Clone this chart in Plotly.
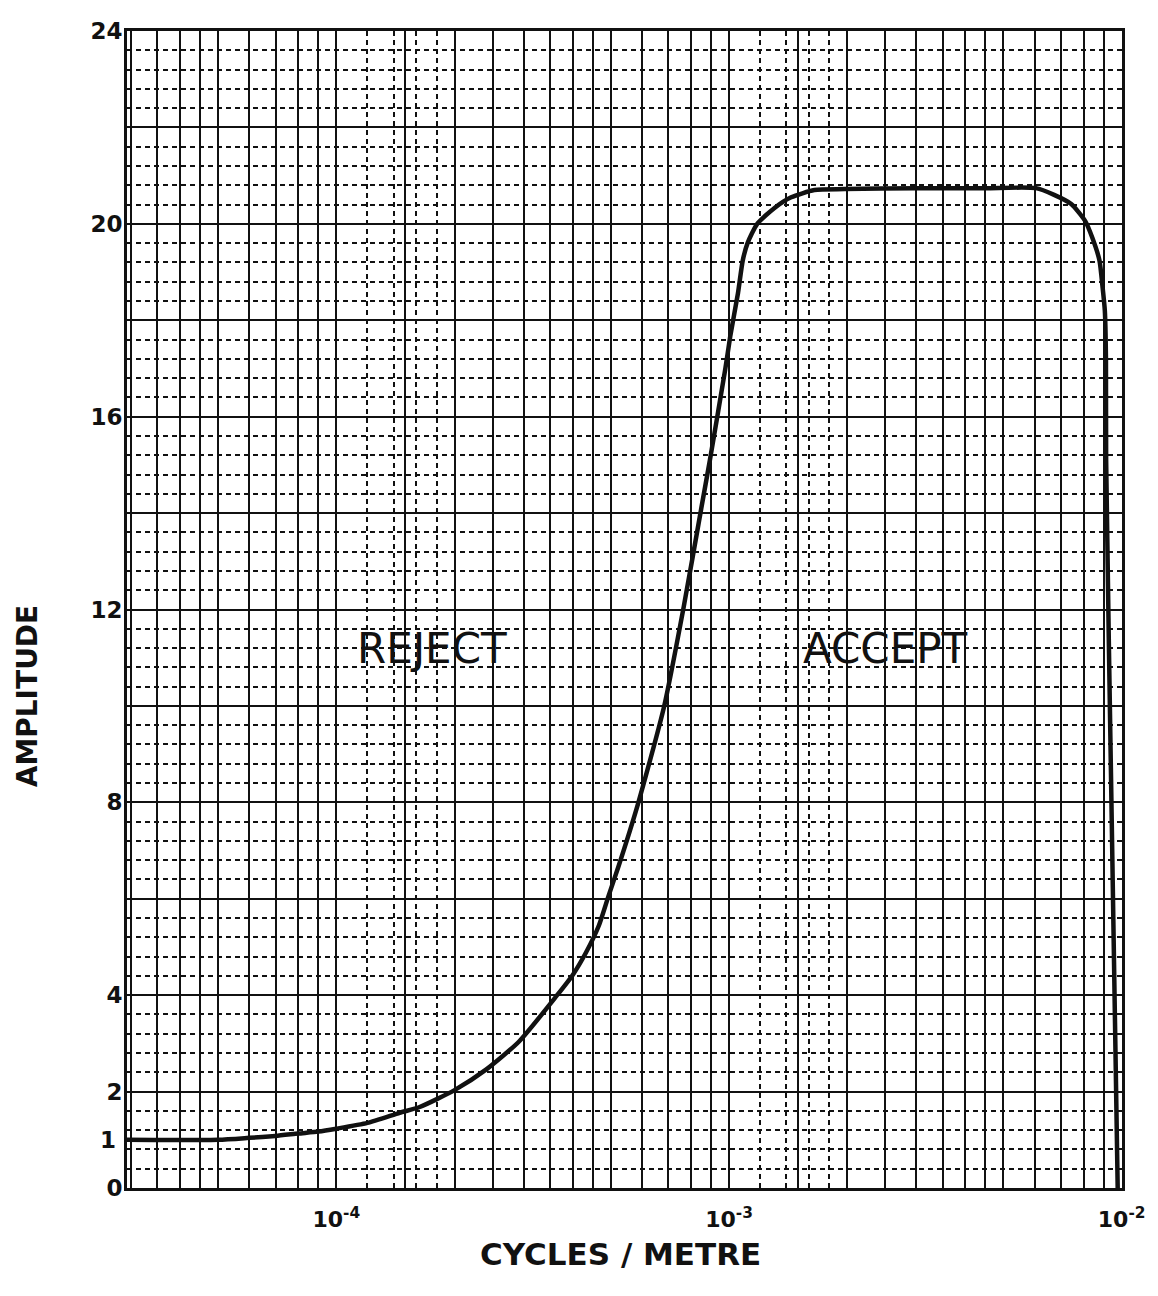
import numpy as np
import plotly.graph_objects as go

# ---- data ----
freq = [2.93e-5, 5.0e-5, 6.0e-5, 7.0e-5, 8.0e-5, 9.0e-5, 1.0e-4, 1.2e-4, 1.45e-4,
        1.63e-4, 2.0e-4, 2.41e-4, 2.92e-4, 3.65e-4, 4.0e-4, 4.32e-4, 4.66e-4,
        4.93e-4, 5.23e-4, 5.86e-4, 6.84e-4, 7.67e-4, 8.5e-4, 8.94e-4, 9.79e-4,
        1.007e-3, 1.054e-3, 1.084e-3, 1.115e-3, 1.18e-3, 1.306e-3, 1.44e-3,
        1.65e-3, 1.97e-3, 3.0e-3, 4.5e-3, 6.05e-3, 6.73e-3, 7.44e-3, 8.07e-3,
        8.42e-3, 8.78e-3, 8.94e-3, 9.06e-3, 9.12e-3, 9.13e-3, 9.42e-3, 9.77e-3]
amplitude = [1.0, 1.0, 1.04, 1.08, 1.13, 1.17, 1.23, 1.35, 1.56,
             1.68, 2.03, 2.46, 3.04, 4.0, 4.42, 4.88, 5.44,
             6.05, 6.67, 7.96, 10.0, 12.06, 14.1, 15.1, 17.0,
             17.66, 18.56, 19.24, 19.6, 20.0, 20.33, 20.55,
             20.7, 20.72, 20.74, 20.74, 20.74, 20.6, 20.41, 20.06,
             19.71, 19.24, 18.69, 18.2, 17.2, 15.1, 7.96, 0.0]

x_decade_exps = [-5, -4, -3]
x_label_vals = [1e-4, 1e-3, 1e-2]
x_label_text = ["10<sup>-4</sup>", "10<sup>-3</sup>", "10<sup>-2</sup>"]
x_solid_mult = [1.5, 2, 2.5, 3, 3.5, 4, 4.5, 5, 6, 7, 8, 9]
x_dotted_mult = [1.2, 1.4, 1.6, 1.8]
y_label_vals = [0, 2, 4, 8, 12, 16, 20, 24]
y_label_text = ["0", "2", "4", "8", "12", "16", "20", "24"]
y_other_solid = [6, 10, 14, 18, 22]
y_dotted = [0.4, 0.8, 1.2, 1.6]            # repeated every 2 units
y_extra_tick = [1]
y_extra_label = ["1"]

region_labels = ["REJECT", "ACCEPT"]
region_freq = [1.75e-4, 2.51e-3]
region_amp = [11.2, 11.2]

x_min, x_max = 2.93e-5, 1.002e-2

# ---- grid tick arrays ----
x_solid = [m * 10.0 ** e for e in x_decade_exps for m in x_solid_mult
           if x_min <= m * 10.0 ** e <= x_max]
x_dotted = [m * 10.0 ** e for e in x_decade_exps for m in x_dotted_mult
            if x_min <= m * 10.0 ** e <= x_max]
y_dotted_all = [round(base + d, 2) for base in range(0, 24, 2) for d in y_dotted]

INK = "#111111"
tick_font = dict(family="DejaVu Sans", size=23, color=INK, weight="bold")
dot_style = "5px,4px"

fig = go.Figure()
fig.add_trace(go.Scatter(x=freq, y=amplitude, mode="lines",
                         line=dict(color=INK, width=4.5, shape="spline", smoothing=0.6),
                         showlegend=False, hoverinfo="x+y"))
# invisible helper trace so the overlaid grid / label axes are drawn
fig.add_trace(go.Scatter(x=freq[:1], y=amplitude[:1], xaxis="x2", yaxis="y2",
                         mode="markers", marker=dict(opacity=0, size=1),
                         showlegend=False, hoverinfo="skip"))

for txt, fx, ay in zip(region_labels, region_freq, region_amp):
    fig.add_annotation(x=np.log10(fx), y=ay, xref="x", yref="y", text=txt,
                       showarrow=False, xanchor="center", yanchor="middle",
                       font=dict(family="DejaVu Sans", size=42, color=INK))

fig.add_annotation(x=-0.1005, y=0.425, xref="paper", yref="paper",
                   text="AMPLITUDE", textangle=-90, showarrow=False,
                   xanchor="center", yanchor="middle",
                   font=dict(family="DejaVu Sans", size=28, color=INK, weight="bold"))
fig.add_annotation(x=0.4955, y=-0.0573, xref="paper", yref="paper",
                   text="CYCLES / METRE", showarrow=False,
                   xanchor="center", yanchor="middle",
                   font=dict(family="DejaVu Sans", size=31, color=INK, weight="bold"))

xr = [np.log10(x_min), np.log10(x_max)]
fig.update_layout(
    width=1150, height=1288,
    margin=dict(l=119, r=36, t=10, b=108),
    paper_bgcolor="white", plot_bgcolor="white",
    showlegend=False,
    xaxis=dict(type="log", range=xr,
               tickmode="array", tickvals=x_label_vals, ticktext=x_label_text,
               showgrid=True, gridcolor=INK, gridwidth=2.2,
               minor=dict(tickmode="array", tickvals=x_solid, showgrid=True,
                          gridcolor=INK, gridwidth=2.2, ticks=""),
               showline=True, linecolor=INK, linewidth=3, mirror=True,
               ticks="", zeroline=False,
               tickfont=dict(family="DejaVu Sans", size=22, color=INK, weight="bold"),
               ticklabelstandoff=10),
    xaxis2=dict(type="log", range=xr, overlaying="x", side="bottom",
                tickmode="array", tickvals=x_dotted, showticklabels=False,
                showgrid=True, gridcolor=INK, gridwidth=1.6, griddash=dot_style,
                ticks="", zeroline=False, showline=False),
    yaxis=dict(range=[0, 24], tickmode="array", tickvals=y_label_vals, ticktext=y_label_text,
               showgrid=True, gridcolor=INK, gridwidth=2.2,
               minor=dict(tickmode="array", tickvals=y_other_solid, showgrid=True,
                          gridcolor=INK, gridwidth=2.2, ticks=""),
               showline=True, linecolor=INK, linewidth=3, mirror=True,
               ticks="", zeroline=False, tickfont=tick_font, ticklabelstandoff=-3),
    yaxis2=dict(overlaying="y", side="left", range=[0, 24], tickmode="array",
                tickvals=y_extra_tick, ticktext=y_extra_label, showgrid=False,
                minor=dict(tickmode="array", tickvals=y_dotted_all, showgrid=True,
                           gridcolor=INK, gridwidth=1.6, griddash=dot_style, ticks=""),
                zeroline=False, showline=False, ticks="", tickfont=tick_font,
                ticklabelstandoff=10),
)

fig.write_html("out.html")
